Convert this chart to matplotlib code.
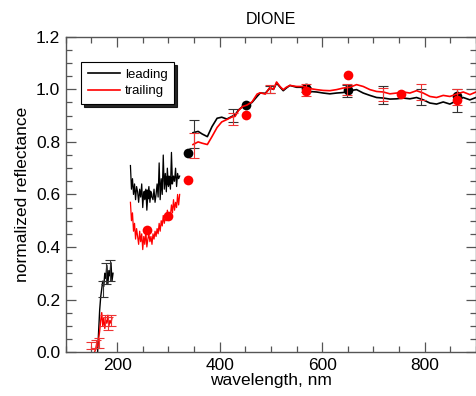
import matplotlib
matplotlib.use("Agg")
import matplotlib.pyplot as plt
from matplotlib.ticker import MultipleLocator

plt.rcParams['font.family'] = ['Liberation Sans', 'DejaVu Sans']

# ---------------- data ----------------
# Far-UV segments
fuv_lead_nm = [162, 164, 166, 168, 170, 172, 174, 176, 178, 180, 182, 184, 186, 188, 190, 192]
fuv_lead = [0.0, 0.08, 0.16, 0.21, 0.24, 0.27, 0.25, 0.30, 0.28, 0.33, 0.26, 0.31, 0.29, 0.34, 0.27, 0.30]
fuv_trail_nm = [156, 158, 160, 162, 164, 166, 168, 170, 172, 174, 176, 178, 180, 182, 184, 186, 188, 190]
fuv_trail = [0.0, 0.01, 0.03, 0.02, 0.05, 0.08, 0.12, 0.15, 0.10, 0.13, 0.09, 0.12, 0.11, 0.14, 0.10, 0.12, 0.11, 0.13]

# Mid-UV segments
uv_nm = [226, 228, 230, 232, 234, 236, 238, 240, 242, 244, 246, 248, 250, 252, 254, 256, 258,
         260, 262, 264, 266, 268, 270, 272, 274, 276, 278, 280, 282, 284, 286, 288, 290, 292,
         294, 296, 298, 300, 302, 304, 306, 308, 310, 312, 314, 316, 318, 320, 322]
uv_lead = [0.71, 0.62, 0.66, 0.60, 0.64, 0.58, 0.63, 0.61, 0.57, 0.62, 0.59, 0.64, 0.55, 0.61, 0.58,
           0.62, 0.54, 0.60, 0.63, 0.57, 0.61, 0.59, 0.58, 0.62, 0.57, 0.60, 0.64, 0.59, 0.72, 0.58,
           0.66, 0.60, 0.75, 0.62, 0.68, 0.61, 0.70, 0.63, 0.66, 0.62, 0.76, 0.64, 0.67, 0.65, 0.70,
           0.63, 0.68, 0.66, 0.67]
uv_trail = [0.57, 0.50, 0.53, 0.46, 0.49, 0.43, 0.47, 0.44, 0.41, 0.46, 0.42, 0.45, 0.39, 0.44, 0.41,
            0.46, 0.40, 0.43, 0.45, 0.42, 0.44, 0.41, 0.45, 0.43, 0.46, 0.44, 0.47, 0.45, 0.49, 0.46,
            0.50, 0.48, 0.52, 0.49, 0.51, 0.50, 0.54, 0.51, 0.53, 0.52, 0.56, 0.53, 0.58, 0.54, 0.57,
            0.55, 0.60, 0.56, 0.60]

# Visible spectra
vis_nm = [348, 358, 366, 376, 385, 395, 404, 414, 424, 430, 437, 445, 453, 463, 473, 479, 489,
          498, 505, 511, 518, 524, 530, 537, 550, 563, 576, 589, 602, 615, 628, 641, 654, 667,
          680, 693, 706, 719, 732, 745, 758, 771, 784, 797, 810, 823, 836, 849, 862, 875, 888, 900]
vis_lead = [0.835, 0.84, 0.83, 0.82, 0.858, 0.89, 0.894, 0.887, 0.897, 0.903, 0.922, 0.935, 0.94,
            0.95, 0.973, 0.986, 0.985, 1.005, 1.0, 1.024, 1.008, 0.995, 1.005, 1.015, 1.008, 1.008,
            0.992, 0.990, 0.986, 0.983, 0.986, 0.988, 0.995, 0.999, 0.986, 0.977, 0.969, 0.967,
            0.963, 0.964, 0.967, 0.964, 0.969, 0.960, 0.948, 0.944, 0.952, 0.944, 0.957, 0.969,
            0.960, 0.969]
vis_trail = [0.79, 0.80, 0.795, 0.79, 0.82, 0.855, 0.876, 0.885, 0.895, 0.897, 0.92, 0.935, 0.94,
             0.952, 0.982, 0.987, 0.982, 1.008, 1.0, 1.028, 1.01, 0.999, 1.008, 1.015, 1.011, 1.011,
             1.003, 0.999, 0.996, 0.995, 0.999, 1.005, 1.008, 1.018, 1.011, 0.999, 0.992, 0.990,
             0.983, 0.986, 0.990, 0.986, 0.995, 0.986, 0.973, 0.969, 0.977, 0.973, 0.982, 0.990,
             0.980, 0.990]

# Error bars
eb_lead_nm = [172, 178, 186, 350, 426, 499, 568, 648, 719, 793, 863]
eb_lead = [0.24, 0.30, 0.31, 0.83, 0.90, 1.0, 1.0, 0.993, 0.978, 0.97, 0.956]
eb_lead_err = [0.03, 0.04, 0.04, 0.055, 0.026, 0.012, 0.01, 0.022, 0.033, 0.03, 0.044]
eb_trail_nm = [150, 158, 164, 176, 182, 188, 350, 426, 499, 568, 648, 719, 793, 863]
eb_trail = [0.025, 0.03, 0.035, 0.12, 0.11, 0.12, 0.786, 0.887, 1.0, 0.998, 1.0, 0.98, 0.99, 0.97]
eb_trail_err = [0.015, 0.015, 0.02, 0.02, 0.025, 0.02, 0.048, 0.024, 0.015, 0.022, 0.02, 0.025, 0.03, 0.03]

# Broadband points
pt_lead_nm = [258, 299, 338, 452, 568, 651, 863]
pt_lead = [0.602, 0.656, 0.757, 0.939, 1.005, 0.996, 0.976]
pt_trail_nm = [259, 299, 338, 452, 568, 651, 753, 863]
pt_trail = [0.466, 0.519, 0.656, 0.902, 0.992, 1.053, 0.983, 0.958]

title = "DIONE"
xlabel = "wavelength, nm"
ylabel = "normalized reflectance"

# ---------------- plot ----------------
fig = plt.figure(figsize=(4.77, 3.96), dpi=100)
ax = fig.add_axes([0.138, 0.111, 0.860, 0.796])

lw = 1.2
ax.plot(fuv_lead_nm, fuv_lead, color='black', lw=1.0)
ax.plot(uv_nm, uv_lead, color='black', lw=0.9)
ax.plot(vis_nm, vis_lead, color='black', lw=lw, label='leading')
ax.errorbar(eb_lead_nm, eb_lead, yerr=eb_lead_err, fmt='none', ecolor='#333333',
            elinewidth=0.8, capsize=3.5, capthick=0.8)
ax.plot(pt_lead_nm, pt_lead, 'o', color='black', ms=7, mec='none')

ax.plot(fuv_trail_nm, fuv_trail, color='red', lw=1.0)
ax.plot(uv_nm, uv_trail, color='red', lw=0.9)
ax.plot(vis_nm, vis_trail, color='red', lw=lw, label='trailing')
ax.errorbar(eb_trail_nm, eb_trail, yerr=eb_trail_err, fmt='none', ecolor='#ee3333',
            elinewidth=0.8, capsize=3.5, capthick=0.8)
ax.plot(pt_trail_nm, pt_trail, 'o', color='red', ms=7, mec='none')

ax.set_xlim(100, 900)
ax.set_ylim(0.0, 1.2)
ax.xaxis.set_major_locator(MultipleLocator(200))
ax.xaxis.set_minor_locator(MultipleLocator(50))
ax.yaxis.set_major_locator(MultipleLocator(0.2))
ax.yaxis.set_minor_locator(MultipleLocator(0.05))
ax.yaxis.set_major_formatter(plt.FuncFormatter(lambda v, p: f"{v:.1f}"))

for s in ax.spines.values():
    s.set_color('#555555')
    s.set_linewidth(1.0)
ax.tick_params(which='both', direction='in', top=True, right=True, color='#555555',
               labelsize=12.5, width=0.9, pad=4)
ax.tick_params(which='major', length=7)
ax.tick_params(which='minor', length=4)

ax.set_title(title, fontsize=11.5, pad=9)
ax.set_xlabel(xlabel, fontsize=12.5, labelpad=0)
ax.set_ylabel(ylabel, fontsize=12.5, labelpad=4)

leg = ax.legend(loc='upper left', bbox_to_anchor=(0.038, 0.921), borderaxespad=0,
                fontsize=9.5, frameon=True, fancybox=False, shadow={'color': 'black', 'alpha': 0.85},
                handlelength=2.4, handletextpad=0.4, borderpad=0.5, labelspacing=0.35)
leg.get_frame().set_edgecolor('black')
leg.get_frame().set_linewidth(0.8)

fig.savefig("out.png", dpi=100)
